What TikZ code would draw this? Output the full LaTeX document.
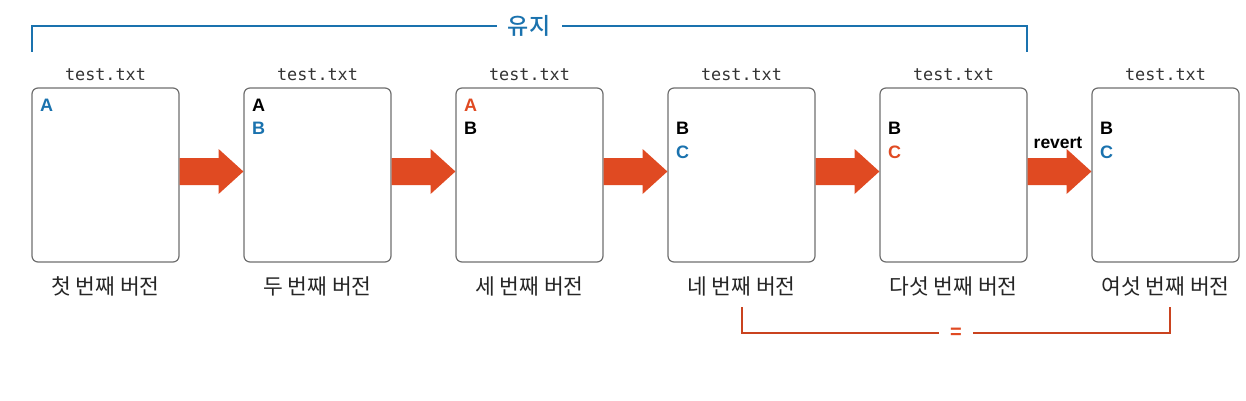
\documentclass[tikz,border=0pt]{standalone}
\usepackage{fontspec}
\setmainfont{Liberation Sans}
\newfontfamily\kr{Noto Sans CJK KR}
\newfontfamily\krm{Noto Sans CJK KR Medium}
\newfontfamily\mono{DejaVu Sans Mono}
\usetikzlibrary{arrows.meta,calc}
\definecolor{gblue}{HTML}{1A72AE}
\definecolor{gred}{HTML}{E04A22}
\definecolor{gframe}{HTML}{6E6E6E}
\tikzset{
  filebox/.style={draw=gframe,line width=1.2pt,rounded corners=6pt,minimum width=147pt,minimum height=174pt,inner sep=0pt},
  fname/.style={font=\mono\fontsize{16.8}{16.8}\selectfont,text=black!80,anchor=base},
  captxt/.style={font=\kr\fontsize{21.5}{21.5}\selectfont,text=black!85,anchor=base},
  letter/.style={font=\bfseries\fontsize{18}{18}\selectfont,anchor=base west,inner sep=0pt},
  bigarrow/.style={fill=gred,draw=none},
  bluebr/.style={draw=gblue,line width=1.3pt},
  redbr/.style={draw=gred!90!black,line width=1.3pt},
}
\begin{document}
\begin{tikzpicture}[x=1pt,y=-1pt]
\useasboundingbox (0,0) rectangle (1246,401);
\foreach \i/\c in {1/첫,2/두,3/세,4/네,5/다섯,6/여섯}{
  \pgfmathsetmacro{\xx}{32+212*(\i-1)+73.5}
  \node[filebox] (b\i) at (\xx,175) {};
  \node[fname] (t\i) at (\xx,81) {test.txt};
  \node[captxt] (c\i) at (\xx,294) {\c{} 번째 버전};
}
% contents
\node[letter,text=gblue] (a1) at (40,111) {A};
\node[letter] (a2) at (252,111) {A};
\node[letter,text=gblue] (bb2) at (252,134) {B};
\node[letter,text=gred] (a3) at (464,111) {A};
\node[letter] (bb3) at (464,134) {B};
\node[letter] (bb4) at (676,135) {B};
\node[letter,text=gblue] (cc4) at (676,158) {C};
\node[letter] (bb5) at (888,135) {B};
\node[letter,text=gred] (cc5) at (888,158) {C};
\node[letter] (bb6) at (1100,135) {B};
\node[letter,text=gblue] (cc6) at (1100,158) {C};
% arrows
\foreach \i [evaluate=\i as \j using int(\i+1)] in {1,...,5}{
  \fill[bigarrow] (b\i.east |- 0,158) -- ++(39,0) -- ++(0,-9) -- (b\j.west |- 0,171.5) -- ($(b\i.east |- 0,194)+(39,0)$) -- ++(0,-9) -- (b\i.east |- 0,185) -- cycle;
}
\node[font=\bfseries\fontsize{17.5}{17.5}\selectfont,anchor=base] (rv) at (1058,148) {revert};
% top bracket
\coordinate (tl) at (32,52);
\coordinate (tr) at (1027,52);
\node[text=gblue,font=\krm\fontsize{23}{23}\selectfont] (yj) at (529,26) {유지};
\draw[bluebr] (tl) -- (tl |- 0,26) -- (497,26);
\draw[bluebr] (562,26) -- (tr |- 0,26) -- (tr);
% bottom bracket
\coordinate (bl) at (742,307);
\coordinate (br) at (1170,307);
\node[text=gred,font=\bfseries\fontsize{20}{20}\selectfont] (eq) at (956,333) {=};
\draw[redbr] (bl) -- (bl |- 0,333) -- ([xshift=-8pt]eq.west |- 0,333);
\draw[redbr] ([xshift=8pt]eq.east |- 0,333) -- (br |- 0,333) -- (br);
\end{tikzpicture}
\end{document}
